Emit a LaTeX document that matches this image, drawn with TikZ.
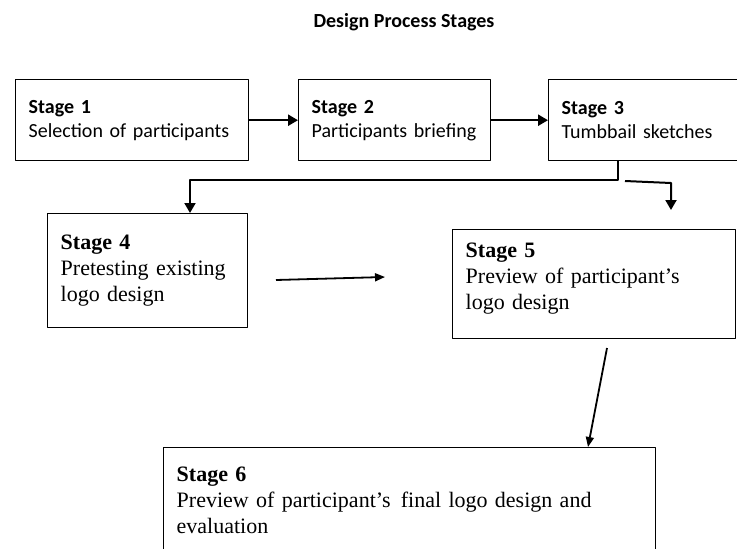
\documentclass[tikz,border=0pt]{standalone}
\usepackage{fontspec}
\setmainfont{Liberation Serif}
\newfontfamily\calibri{Carlito}
\usetikzlibrary{arrows.meta}

\begin{document}
\begin{tikzpicture}[x=1pt, y=-1pt, line join=round,
		sbox/.style={draw, line width=1.4pt, anchor=north west, align=left, inner xsep=13pt, inner ysep=0pt, text width=#1},
		cal/.style={font=\calibri\fontsize{20}{24}\selectfont},
		tms/.style={font=\fontsize{22}{26}\selectfont},
		link/.style={line width=2.4pt, -{Triangle[length=10pt,width=11pt]}},
		thinlink/.style={line width=1.8pt, -{Triangle[length=10pt,width=8pt]}}]
	\useasboundingbox (0,0) rectangle (737,549);
	\node[font=\calibri\bfseries\fontsize{20}{24}\selectfont] (title) at (404,22) {Design Process Stages};
	% top row
	\node[sbox=207pt, cal, minimum height=81pt] (s1) at (15,79) {\textbf{Stage 1}\\Selection of participants};
	\node[sbox=166pt, cal, minimum height=81pt] (s2) at (298,79) {\textbf{Stage 2}\\Participants briefing};
	\node[sbox=174pt, cal, minimum height=81pt] (s3) at (548,79) {\textbf{Stage 3}\\Tumbbail sketches};
	% lower boxes
	\node[sbox=174pt, tms, minimum height=114pt] (s4) at (47,213) {\textbf{Stage 4}\\Pretesting existing\\logo design};
	\node[sbox=257pt, tms, minimum height=109pt] (s5) at (452,229) {\textbf{Stage 5}\\Preview of participant's\\logo design\\[-10pt]\mbox{}};
	\node[sbox=466pt, tms, minimum height=106pt] (s6) at (163,447) {\textbf{Stage 6}\\Preview of participant's\hspace{3pt} final logo design and\\evaluation};
	\path (618,180)coordinate(J)(190,180)coordinate(K)(625,181)coordinate(L)(671,183)coordinate(M)(671,210)coordinate(F)
		(276,280)coordinate(A1)(385,277)coordinate(A2)(607,348)coordinate(B1)(588,0)coordinate(B2);
	\draw[link](s1)--(s2);
	\draw[link](s2)--(s3);
	\draw[link, line width=2pt](s3.south -| J)--(J)--(K)--(s4.north -| K);
	\draw[link, line width=2pt](L)--(M)--(F);
	\draw[thinlink](A1)--(A2);
	\draw[thinlink](B1)--(s6.north -| B2);
\end{tikzpicture}
\end{document}
